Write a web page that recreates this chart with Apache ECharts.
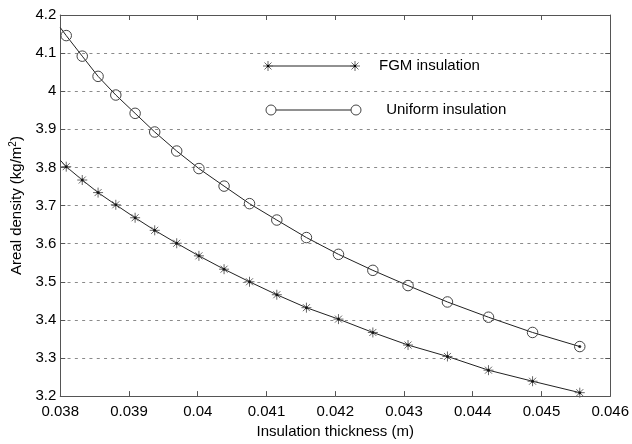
<!DOCTYPE html>
<html><head><meta charset="utf-8">
<script src="https://cdn.jsdelivr.net/npm/echarts@6/dist/echarts.min.js"></script>
<style>html,body{margin:0;padding:0;background:#fff}#c{width:632px;height:444px}</style>
</head><body><div id="c"></div>
<script>
// Insulation thickness (m) at the marker positions
const thickness = [0.038087,0.03832,0.03855,0.038808,0.039089,0.039374,0.039694,0.040017,0.040383,0.040753,0.04115,0.041581,0.042047,0.042547,0.043059,0.043632,0.044229,0.04487,0.045557];
// Areal density (kg/m^2)
const fgmDensity = [3.802,3.767,3.734,3.702,3.668,3.635,3.601,3.568,3.533,3.500,3.466,3.432,3.402,3.367,3.334,3.304,3.268,3.239,3.209];
const uniformDensity = [4.146,4.092,4.039,3.990,3.942,3.893,3.843,3.797,3.751,3.705,3.662,3.616,3.572,3.530,3.490,3.447,3.407,3.367,3.330];
// where the curves meet the left axis (no marker there)
const edgeThickness = [0.038];
const fgmEdge = [3.819];
const uniformEdge = [4.167];
const seriesNames = ['FGM insulation', ' Uniform insulation'];
const xRange = [0.038, 0.046, 0.001];
const yRange = [3.2, 4.2, 0.1];

const FONT = 'Liberation Sans, Arial, Helvetica, sans-serif';
const AX = '#555';
const LINE = '#222';
const STAR = 'path://M5,0L5,10M0,5L10,5M1.5,1.5L8.5,8.5M8.5,1.5L1.5,8.5';

function curve(edgeY, ys) {
  const d = edgeThickness.map((x, i) => ({ value: [x, edgeY[i]], symbol: 'none' }));
  return d.concat(thickness.map((x, i) => [x, ys[i]]));
}

const chart = echarts.init(document.getElementById('c'), null, { renderer: 'canvas' });

function starLines(cx, cy) {
  const r = 5, d = 3.5;
  return [[0, -r, 0, r], [-r, 0, r, 0], [-d, -d, d, d], [d, -d, -d, d]].map(s => ({
    type: 'line', shape: { x1: cx + s[0], y1: cy + s[1], x2: cx + s[2], y2: cy + s[3] },
    style: { stroke: '#666', lineWidth: 1 }, silent: true
  }));
}
const L1 = 66, L2 = 110;
const legendGraphics = [
  { type: 'line', shape: { x1: 268, y1: L1, x2: 355, y2: L1 }, style: { stroke: LINE, lineWidth: 1 } },
  ...starLines(268, L1), ...starLines(355, L1),
  { type: 'circle', shape: { cx: 268, cy: L1, r: 1.3 }, style: { fill: '#000' } },
  { type: 'circle', shape: { cx: 355, cy: L1, r: 1.3 }, style: { fill: '#000' } },
  { type: 'text', x: 379, y: L1, style: { text: seriesNames[0], font: '15px ' + FONT, fill: '#000', verticalAlign: 'middle' } },
  { type: 'line', shape: { x1: 271, y1: L2, x2: 356, y2: L2 }, style: { stroke: LINE, lineWidth: 1 } },
  { type: 'circle', shape: { cx: 271, cy: L2, r: 5 }, style: { fill: '#fff', stroke: '#444', lineWidth: 1 } },
  { type: 'circle', shape: { cx: 356, cy: L2, r: 5 }, style: { fill: '#fff', stroke: '#444', lineWidth: 1 } },
  { type: 'text', x: 382, y: L2, style: { text: seriesNames[1], font: '15px ' + FONT, fill: '#000', verticalAlign: 'middle' } }
];

const fmt3 = v => String(+(+v).toFixed(3));
const fmt1 = v => String(+(+v).toFixed(1));

const option = {
  animation: false,
  backgroundColor: '#fff',
  textStyle: { fontFamily: FONT },
  grid: { left: 60, right: 21, top: 15, bottom: 44, show: false },
  xAxis: [{
    type: 'value', min: xRange[0], max: xRange[1], interval: xRange[2],
    name: 'Insulation thickness (m)', nameLocation: 'middle', nameGap: 25,
    nameTextStyle: { fontSize: 15, color: '#000', fontFamily: FONT },
    axisLine: { show: true, lineStyle: { color: AX, width: 1 } },
    axisTick: { show: true, inside: true, length: 5, lineStyle: { color: AX } },
    axisLabel: { fontSize: 15, color: '#000', margin: 8, formatter: fmt3, fontFamily: FONT },
    splitLine: { show: false }
  }, {
    type: 'value', position: 'top', min: xRange[0], max: xRange[1], interval: xRange[2],
    axisLine: { show: true, lineStyle: { color: AX, width: 1 } },
    axisTick: { show: true, inside: true, length: 5, lineStyle: { color: AX } },
    axisLabel: { show: false }, splitLine: { show: false }
  }],
  yAxis: [{
    type: 'value', min: yRange[0], max: yRange[1], interval: yRange[2],
    name: '{n|Areal density (kg/m}{s|2}{n|)}', nameLocation: 'middle', nameGap: 31,
    nameTextStyle: { color: '#000', fontFamily: FONT, rich: {
      n: { fontSize: 15, fontFamily: FONT, color: '#000', lineHeight: 18 },
      s: { fontSize: 10, fontFamily: FONT, color: '#000', lineHeight: 10, verticalAlign: 'top' }
    } },
    axisLine: { show: true, lineStyle: { color: AX, width: 1 } },
    axisTick: { show: true, inside: true, length: 5, lineStyle: { color: AX } },
    axisLabel: { fontSize: 15, color: '#000', margin: 4, formatter: fmt1, fontFamily: FONT },
    splitLine: { show: true, lineStyle: { color: '#8a8a8a', width: 1, type: [3, 4.3] } }
  }, {
    type: 'value', position: 'right', min: yRange[0], max: yRange[1], interval: yRange[2],
    axisLine: { show: true, lineStyle: { color: AX, width: 1 } },
    axisTick: { show: true, inside: true, length: 5, lineStyle: { color: AX } },
    axisLabel: { show: false }, splitLine: { show: false }
  }],
  series: [{
    name: seriesNames[0], type: 'line', xAxisIndex: 0, yAxisIndex: 0,
    data: curve(fgmEdge, fgmDensity),
    symbol: STAR, symbolSize: 10, showAllSymbol: true,
    itemStyle: { color: 'none', borderColor: '#666', borderWidth: 1 },
    lineStyle: { color: LINE, width: 1 },
    emphasis: { disabled: true }, z: 3
  }, {
    name: seriesNames[1], type: 'line', xAxisIndex: 0, yAxisIndex: 0,
    data: curve(uniformEdge, uniformDensity),
    symbol: 'circle', symbolSize: 10.5, showAllSymbol: true,
    itemStyle: { color: 'rgba(0,0,0,0)', borderColor: '#444', borderWidth: 1 },
    lineStyle: { color: LINE, width: 1 },
    emphasis: { disabled: true }, z: 3
  }, {
    name: 'fgm-dots', type: 'scatter', xAxisIndex: 0, yAxisIndex: 0,
    data: thickness.map((x, i) => [x, fgmDensity[i]]),
    symbol: 'circle', symbolSize: 3, itemStyle: { color: '#000' },
    emphasis: { disabled: true }, z: 4
  }, {
    name: 'uniform-end-dot', type: 'scatter', xAxisIndex: 0, yAxisIndex: 0,
    data: [[thickness[thickness.length - 1], uniformDensity[uniformDensity.length - 1]]],
    symbol: 'circle', symbolSize: 3, itemStyle: { color: '#000' },
    emphasis: { disabled: true }, z: 4
  }],
  graphic: legendGraphics
};
chart.setOption(option);
</script>
</body></html>
